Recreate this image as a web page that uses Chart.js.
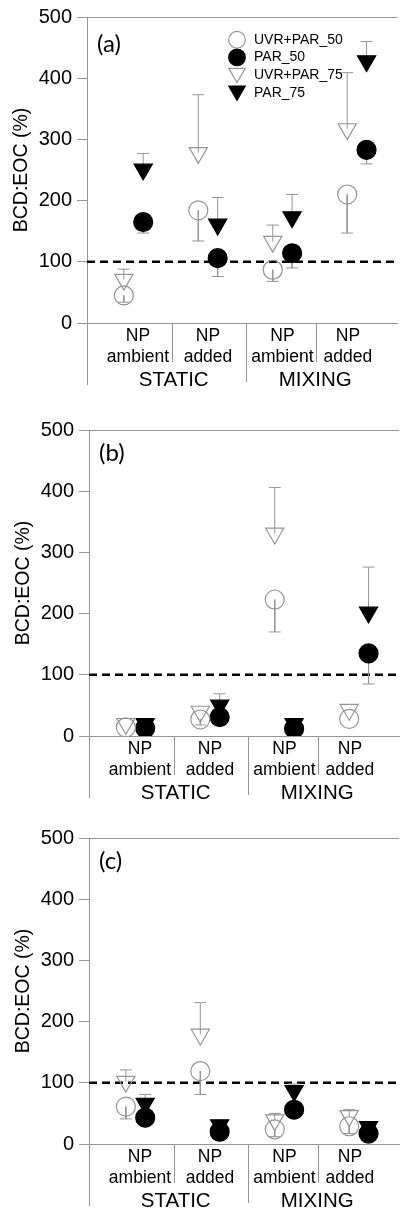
<!DOCTYPE html>
<html>
<head>
<meta charset="utf-8">
<script src="https://cdn.jsdelivr.net/npm/chart.js"></script>
<style>
  html, body { margin: 0; padding: 0; background: #fff; overflow: hidden; }
  body { width: 409px; height: 1213px; position: relative; }
  canvas { position: absolute; }
</style>
</head>
<body>
<canvas id="chartA" width="409" height="395" style="left:0;top:0"></canvas>
<canvas id="chartB" width="409" height="395" style="left:2px;top:413px"></canvas>
<canvas id="chartC" width="409" height="395" style="left:2px;top:821px"></canvas>
<script>
'use strict';

// ======= data =======

var seriesNames = ['UVR+PAR_50', 'PAR_50', 'UVR+PAR_75', 'PAR_75'];
var categoryLabels = [['NP', 'ambient'], ['NP', 'added'], ['NP', 'ambient'], ['NP', 'added']];
var groupLabels = ['STATIC', 'MIXING'];
var yTickValues = [0, 100, 200, 300, 400, 500];
var refValue = 100;

// panel (a)
var aUvr50 = [45, 184, 87, 210];
var aUvr50Err = [34, 134, 68, 147];
var aPar50 = [165, 106, 114, 283];
var aPar50Err = [147, 76, 90, 260];
var aUvr75 = [71, 278, 133, 317];
var aUvr75Err = [88, 373, 160, 409];
var aPar75 = [251, 161, 173, 428];
var aPar75Err = [277, 205, 210, 460];

// panel (b)
var bUvr50 = [14, 27, 223, 28];
var bUvr50Err = [null, 18, 170, null];
var bPar50 = [13, 31, 12, 135];
var bPar50Err = [null, null, null, 85];
var bUvr75 = [20, 40, 331, 43];
var bUvr75Err = [null, null, 406, null];
var bPar75 = [20, 50, 20, 202];
var bPar75Err = [null, 69, null, 276];

// panel (c)
var cUvr50 = [61, 119, 24, 29];
var cUvr50Err = [41, 81, 12, 17];
var cPar50 = [43, 20, 56, 17];
var cPar50Err = [null, null, null, null];
var cUvr75 = [102, 179, 39, 46];
var cUvr75Err = [121, 231, 50, 56];
var cPar75 = [66, 31, 87, 28];
var cPar75Err = [81, null, 98, null];

// ======= styles / layout =======

var fontFamily = '"Liberation Sans", Arial, sans-serif';
var gray = '#959595';
var ink = '#000';
var xMin = -0.625;
var xMax = 3.543;
var openOffset = -0.13;
var filledOffset = 0.13;
var tickPos = [0.06, 1, 2, 2.88];

// ======= helpers =======

function markerSet(name, values, open, shape) {
  return {
    label: name,
    data: values.map(function (v, i) { return { x: i + (open ? openOffset : filledOffset), y: v }; }),
    showLine: false,
    pointStyle: shape,
    pointRotation: shape === 'triangle' ? 180 : 0,
    pointRadius: shape === 'triangle' ? 10.5 : 9.5,
    pointBackgroundColor: open ? 'rgba(0,0,0,0)' : '#000',
    pointBorderColor: open ? gray : '#000',
    pointBorderWidth: 1.2
  };
}

function errorSet(values, errs, open) {
  var pts = [];
  var off = open ? openOffset : filledOffset;
  for (var i = 0; i < values.length; i++) {
    if (errs[i] === null) continue;
    pts.push({ x: i + off, y: values[i] }, { x: i + off, y: errs[i] }, { x: i + off, y: null });
  }
  return {
    label: '',
    data: pts,
    showLine: true,
    spanGaps: false,
    borderColor: gray,
    borderWidth: 1,
    pointStyle: 'line',
    pointRadius: function (ctx) { return ctx.index % 3 === 1 ? 6 : 0; },
    pointBorderColor: gray,
    pointBorderWidth: 1
  };
}

function refLine() {
  return {
    label: '',
    data: [{ x: xMin, y: refValue }, { x: xMax, y: refValue }],
    showLine: true,
    borderColor: ink,
    borderWidth: 2.5,
    borderDash: [8, 5],
    pointRadius: 0
  };
}

function drawSymbol(ctx, shape, x, y, r, open) {
  ctx.beginPath();
  if (shape === 'circle') {
    ctx.arc(x, y, r, 0, Math.PI * 2);
  } else {
    ctx.moveTo(x - r * Math.sqrt(3) / 2, y - r / 2);
    ctx.lineTo(x + r * Math.sqrt(3) / 2, y - r / 2);
    ctx.lineTo(x, y + r);
    ctx.closePath();
  }
  ctx.lineWidth = 1.2;
  ctx.strokeStyle = open ? gray : '#000';
  if (!open) { ctx.fillStyle = '#000'; ctx.fill(); }
  ctx.stroke();
}

// draws separators under the x axis, group names, panel letter and legend
var decorations = {
  id: 'decorations',
  afterDraw: function (chart, args, opts) {
    var ctx = chart.ctx;
    var area = chart.chartArea;
    var xs = chart.scales.x;
    ctx.save();
    ctx.strokeStyle = gray;
    ctx.lineWidth = 1;
    var seps = [[xMin, 62], [0.517, 39], [1.513, 59], [2.457, 39]];
    seps.forEach(function (s) {
      var px = Math.round(s[0] === xMin ? area.left : xs.getPixelForValue(s[0])) + 0.5;
      ctx.beginPath();
      ctx.moveTo(px, area.bottom);
      ctx.lineTo(px, area.bottom + s[1]);
      ctx.stroke();
    });

    ctx.fillStyle = ink;
    ctx.textAlign = 'center';
    ctx.textBaseline = 'middle';
    ctx.font = '20.5px ' + fontFamily;
    var groupPos = [0.54, 2.44];
    groupLabels.forEach(function (g, i) {
      ctx.fillText(g, xs.getPixelForValue(groupPos[i]), area.bottom + 57);
    });

    ctx.textAlign = 'left';
    ctx.font = '24px Lato, sans-serif';
    ctx.fillText(opts.letter, area.left + 10, area.top + opts.letterDy);

    if (opts.legend) {
      var shapes = ['circle', 'circle', 'triangle', 'triangle'];
      var opens = [true, false, true, false];
      ctx.font = '14px ' + fontFamily;
      seriesNames.forEach(function (n, i) {
        var y = area.top + 22.7 + i * 17.7;
        drawSymbol(ctx, shapes[i], area.left + 150, y + (shapes[i] === 'triangle' ? -2 : 0), shapes[i] === 'triangle' ? 9.5 : 8.3, opens[i]);
        ctx.fillStyle = ink;
        ctx.fillText(n, area.left + 167, y);
      });
    }
    ctx.restore();
  }
};

function makePanel(id, letter, letterDy, legend, s) {
  var ctx = document.getElementById(id).getContext('2d');
  return new Chart(ctx, {
    type: 'scatter',
    data: {
      datasets: [
        markerSet(seriesNames[0], s[0], true, 'circle'),
        markerSet(seriesNames[1], s[2], false, 'circle'),
        markerSet(seriesNames[2], s[4], true, 'triangle'),
        markerSet(seriesNames[3], s[6], false, 'triangle'),
        errorSet(s[0], s[1], true),
        errorSet(s[2], s[3], false),
        errorSet(s[4], s[5], true),
        errorSet(s[6], s[7], false),
        refLine()
      ]
    },
    options: {
      responsive: false,
      animation: false,
      events: [],
      layout: { padding: { top: 15, right: 0, bottom: 0, left: 0 } },
      plugins: {
        legend: { display: false },
        tooltip: { enabled: false },
        decorations: { letter: letter, letterDy: letterDy, legend: legend }
      },
      scales: {
        x: {
          type: 'linear',
          min: xMin,
          max: xMax,
          afterBuildTicks: function (scale) {
            scale.ticks = tickPos.map(function (v) { return { value: v }; });
          },
          afterFit: function (scale) { scale.height = 72; },
          ticks: {
            autoSkip: false,
            maxRotation: 0,
            padding: 3,
            color: ink,
            font: { family: fontFamily, size: 17.5, lineHeight: 1.18 },
            callback: function (v, i) { return categoryLabels[i]; }
          },
          grid: { display: true, drawOnChartArea: false, drawTicks: false },
          border: { display: true, color: gray, width: 1 }
        },
        y: {
          min: 0,
          max: 500,
          afterBuildTicks: function (scale) {
            scale.ticks = yTickValues.map(function (v) { return { value: v }; });
          },
          afterFit: function (scale) { scale.width = 87; },
          ticks: {
            padding: 5,
            color: ink,
            font: { family: fontFamily, size: 20 }
          },
          grid: {
            drawOnChartArea: true,
            color: function (c) { return c.tick && c.tick.value === 500 ? gray : 'rgba(0,0,0,0)'; },
            tickColor: gray,
            tickLength: 10,
            lineWidth: 1
          },
          border: { display: true, color: gray, width: 1 },
          title: {
            display: true,
            text: 'BCD:EOC (%)',
            color: ink,
            font: { family: fontFamily, size: 19.5 },
            padding: { top: 10, bottom: 0 }
          }
        }
      }
    },
    plugins: [decorations]
  });
}

makePanel('chartA', '(a)', 27, true,
  [aUvr50, aUvr50Err, aPar50, aPar50Err, aUvr75, aUvr75Err, aPar75, aPar75Err]);
makePanel('chartB', '(b)', 23, false,
  [bUvr50, bUvr50Err, bPar50, bPar50Err, bUvr75, bUvr75Err, bPar75, bPar75Err]);
makePanel('chartC', '(c)', 23, false,
  [cUvr50, cUvr50Err, cPar50, cPar50Err, cUvr75, cUvr75Err, cPar75, cPar75Err]);
</script>
</body>
</html>
